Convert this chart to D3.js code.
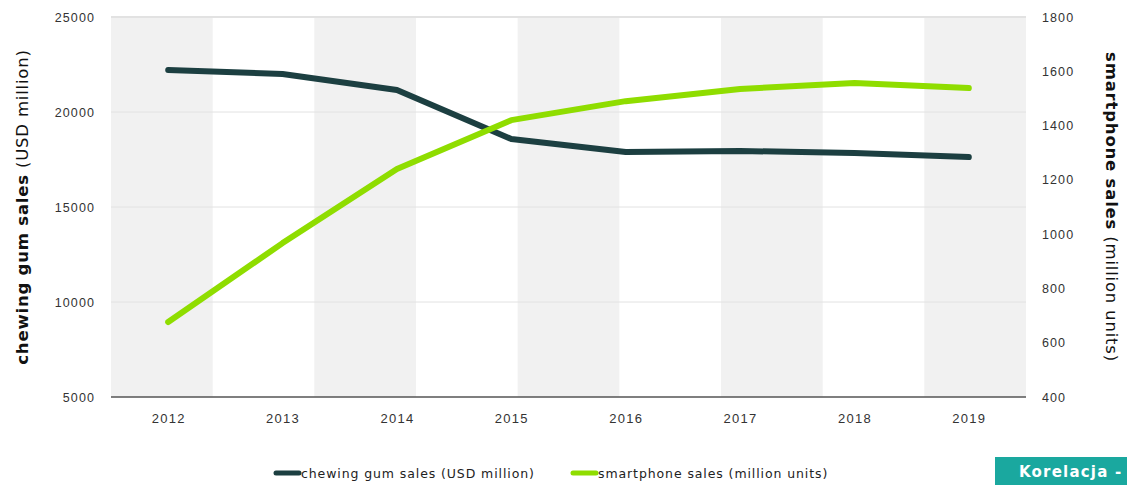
<!DOCTYPE html>
<html><head><meta charset="utf-8">
<script src="https://cdn.jsdelivr.net/npm/d3@7"></script>
<style>
html,body{margin:0;padding:0;background:#fff;}
svg{display:block;font-family:"DejaVu Sans",sans-serif;}
</style></head>
<body><svg id="c" width="1127" height="487"></svg>
<script>
const years = ["2012","2013","2014","2015","2016","2017","2018","2019"];
const gumSales = [22210, 22000, 21160, 18580, 17890, 17950, 17840, 17630];
const phoneSales = [676, 967, 1240, 1420, 1490, 1535, 1557, 1538];
const leftTicks = [5000, 10000, 15000, 20000, 25000];
const rightTicks = [400, 600, 800, 1000, 1200, 1400, 1600, 1800];
const legendLabels = ["chewing gum sales (USD million)", "smartphone sales (million units)"];

const svg = d3.select("#c");
const L = 111, R = 1026, T = 17, B = 397;
const gumColor = "#1c3f41", phoneColor = "#8fdd00";

const x = d3.scalePoint().domain(years).range([L, R]).padding(0.5);
const yL = d3.scaleLinear().domain([5000, 25000]).range([B, T]);
const yR = d3.scaleLinear().domain([400, 1800]).range([B, T]);

// stripes
const stripeCount = 9, sw = (R - L) / stripeCount;
svg.append("g").selectAll("rect").data(d3.range(stripeCount).filter(i => i % 2 === 0))
  .enter().append("rect")
  .attr("x", i => L + i * sw).attr("y", T).attr("width", sw).attr("height", B - T)
  .attr("fill", "#f1f1f1");

// gridlines
svg.append("g").selectAll("line").data(leftTicks.slice(1))
  .enter().append("line")
  .attr("x1", L).attr("x2", R).attr("y1", d => yL(d)).attr("y2", d => yL(d))
  .attr("stroke", "#e2e2e2").attr("stroke-width", d => d === 25000 ? 2 : 1);

// baseline
svg.append("line").attr("x1", L).attr("x2", R).attr("y1", B).attr("y2", B)
  .attr("stroke", "#555").attr("stroke-width", 1.3);

// axes
const tickStyle = g => {
  g.select(".domain").remove();
  g.selectAll(".tick line").remove();
  g.selectAll("text").attr("fill", "#333").style("font-size", "12.5px").style("letter-spacing", "1.1px");
};
svg.append("g").attr("transform", `translate(${L - 16},0)`)
  .call(d3.axisLeft(yL).tickValues(leftTicks).tickSize(0).tickPadding(0).tickFormat(d3.format("d")))
  .call(tickStyle);
svg.append("g").attr("transform", `translate(${R + 16},0)`)
  .call(d3.axisRight(yR).tickValues(rightTicks).tickSize(0).tickPadding(0).tickFormat(d3.format("d")))
  .call(tickStyle);
svg.append("g").attr("transform", `translate(0,${B + 17})`)
  .call(d3.axisBottom(x).tickSize(0).tickPadding(0))
  .call(tickStyle)
  .selectAll("text").attr("dy", "0.71em").style("font-size", "13px").style("letter-spacing", "1.3px");

// lines
const gumLine = d3.line().x((d, i) => x(years[i])).y(d => yL(d));
const phoneLine = d3.line().x((d, i) => x(years[i])).y(d => yR(d));
svg.append("path").datum(gumSales).attr("d", gumLine).attr("fill", "none")
  .attr("stroke", gumColor).attr("stroke-width", 6).attr("stroke-linecap", "round").attr("stroke-linejoin", "round");
svg.append("path").datum(phoneSales).attr("d", phoneLine).attr("fill", "none")
  .attr("stroke", phoneColor).attr("stroke-width", 6).attr("stroke-linecap", "round").attr("stroke-linejoin", "round");

// axis titles
const lt = svg.append("text").attr("transform", `translate(28,${(T + B) / 2}) rotate(-90)`)
  .attr("text-anchor", "middle").attr("fill", "#111").style("font-size", "16.5px").style("letter-spacing", "0.8px");
lt.append("tspan").attr("font-weight", "bold").text("chewing gum sales");
lt.append("tspan").text(" (USD million)");
const rt = svg.append("text").attr("transform", `translate(1106,${(T + B) / 2}) rotate(90)`)
  .attr("text-anchor", "middle").attr("fill", "#111").style("font-size", "16.5px").style("letter-spacing", "0.8px");
rt.append("tspan").attr("font-weight", "bold").text("smartphone sales");
rt.append("tspan").text(" (million units)");

// legend
const lg = svg.append("g");
[[273, gumColor, legendLabels[0]], [570, phoneColor, legendLabels[1]]].forEach(([lx, c, t]) => {
  lg.append("line").attr("x1", lx + 3).attr("x2", lx + 26).attr("y1", 473).attr("y2", 473)
    .attr("stroke", c).attr("stroke-width", 5).attr("stroke-linecap", "round");
  lg.append("text").attr("x", lx + 28).attr("y", 477.5).attr("fill", "#222")
    .style("font-size", "12.5px").style("letter-spacing", "0.9px").text(t);
});

// badge
svg.append("rect").attr("x", 995).attr("y", 457).attr("width", 132).attr("height", 28).attr("fill", "#1aa89f");
svg.append("text").attr("x", 1019).attr("y", 477).attr("fill", "#fff").attr("font-weight", "bold")
  .style("font-size", "15px").style("letter-spacing", "1.2px").text("Korelacja -");
</script></body></html>
